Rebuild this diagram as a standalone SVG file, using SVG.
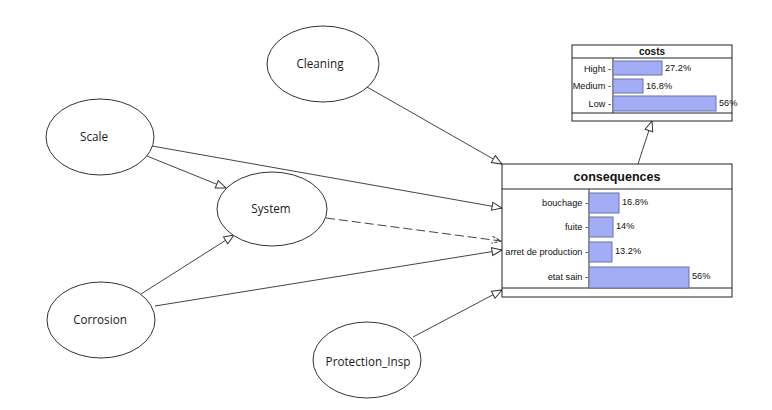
<svg xmlns="http://www.w3.org/2000/svg" width="772" height="410" viewBox="0 0 772 410">
<defs>
<marker id="arr" viewBox="0 0 12 10" refX="11" refY="5" markerWidth="12" markerHeight="10" markerUnits="userSpaceOnUse" orient="auto">
<path d="M1,1 L11,5 L1,9 Z" fill="#fff" stroke="#333" stroke-width="1"/>
</marker>
<marker id="arrs" viewBox="0 0 12 10" refX="11" refY="5" markerWidth="12" markerHeight="10" markerUnits="userSpaceOnUse" orient="auto">
<path d="M2,1.5 L11,5 L2,8.5" fill="none" stroke="#333" stroke-width="1" stroke-dasharray="3,1.5"/>
</marker>
</defs>
<style>
.node ellipse{fill:#fff;stroke:#333;stroke-width:1}
.node text{font-family:"Open Sans","Noto Sans",sans-serif;font-size:11.7px;fill:#1a1a1a;text-anchor:middle}
.edge{fill:none;stroke:#444;stroke-width:1;marker-end:url(#arr)}
.dash{fill:none;stroke:#444;stroke-width:1;stroke-dasharray:9,4;marker-end:url(#arrs)}
.box{fill:#fff;stroke:#222;stroke-width:1}
.sep{stroke:#222;stroke-width:1}
.bar{fill:#a3adf5;stroke:#6a72a8;stroke-width:1}
.lbl{font-family:"Liberation Sans",Arial,sans-serif;font-size:9.2px;fill:#111}
.r{text-anchor:end}
.ttl{font-family:"Liberation Sans",Arial,sans-serif;font-weight:bold;fill:#111;text-anchor:middle}
.axis{stroke:#333;stroke-width:1}
</style>
<rect width="772" height="410" fill="#fff"/>
<g id="connectors">
<line class="edge" x1="367" y1="87" x2="502" y2="164"/>
<line class="edge" x1="152" y1="146" x2="502" y2="208"/>
<line class="edge" x1="147" y1="156" x2="226" y2="188"/>
<line class="dash" x1="326" y1="218" x2="501" y2="241"/>
<line class="edge" x1="141" y1="294" x2="234" y2="235"/>
<line class="edge" x1="155" y1="306" x2="502" y2="250"/>
<line class="edge" x1="413" y1="337" x2="502" y2="290"/>
<line class="edge" x1="638" y1="164" x2="652" y2="121"/>
</g>
<g id="Cleaning" class="node"><ellipse cx="323" cy="64" rx="56" ry="38"/><text x="320" y="68">Cleaning</text></g>
<g id="Scale" class="node"><ellipse cx="100" cy="137" rx="54" ry="38"/><text x="94" y="141">Scale</text></g>
<g id="System" class="node"><ellipse cx="272" cy="209" rx="55" ry="37"/><text x="271" y="213">System</text></g>
<g id="Corrosion" class="node"><ellipse cx="101" cy="320" rx="54" ry="38"/><text x="100" y="324">Corrosion</text></g>
<g id="Protection_Insp" class="node"><ellipse cx="367" cy="360" rx="54" ry="38"/><text x="368" y="366">Protection_Insp</text></g>
<g id="costs">
<rect class="box" x="572" y="45" width="160" height="76"/>
<line class="sep" x1="572" y1="58" x2="732" y2="58"/>
<line class="sep" x1="572" y1="113" x2="732" y2="113"/>
<text class="ttl" x="652" y="55" font-size="10">costs</text>
<line class="axis" x1="613" y1="58" x2="613" y2="113"/>
<rect class="bar" x="613" y="61" width="49" height="14"/>
<rect class="bar" x="613" y="79" width="30" height="14"/>
<rect class="bar" x="613" y="96" width="103" height="15"/>
<text class="lbl r" x="611" y="72">Hight -</text>
<text class="lbl r" x="611" y="89">Medium -</text>
<text class="lbl r" x="611" y="107">Low -</text>
<text class="lbl" x="665" y="71">27.2%</text>
<text class="lbl" x="646" y="89">16.8%</text>
<text class="lbl" x="719" y="106">56%</text>
</g>
<g id="consequences">
<rect class="box" x="502" y="164" width="230" height="133"/>
<line class="sep" x1="502" y1="189" x2="732" y2="189"/>
<line class="sep" x1="502" y1="288" x2="732" y2="288"/>
<text class="ttl" x="617" y="181" font-size="12.5">consequences</text>
<line class="axis" x1="589" y1="189" x2="589" y2="288"/>
<rect class="bar" x="589" y="193" width="30" height="20"/>
<rect class="bar" x="589" y="217" width="24" height="20"/>
<rect class="bar" x="589" y="242" width="23" height="20"/>
<rect class="bar" x="589" y="267" width="100" height="21"/>
<text class="lbl r" x="588" y="206">bouchage -</text>
<text class="lbl r" x="588" y="230">fuite -</text>
<text class="lbl r" x="588" y="255">arret de production -</text>
<text class="lbl r" x="588" y="280">etat sain -</text>
<text class="lbl" x="622" y="205">16.8%</text>
<text class="lbl" x="616" y="229">14%</text>
<text class="lbl" x="615" y="254">13.2%</text>
<text class="lbl" x="692" y="279">56%</text>
</g>
</svg>
